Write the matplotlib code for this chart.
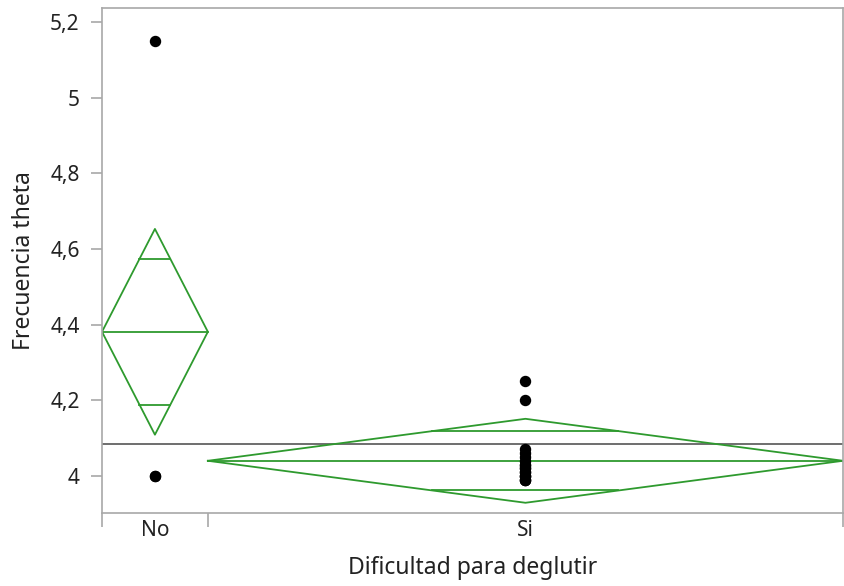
import numpy as np
import matplotlib.pyplot as plt

# Groups (x axis widths proportional to group size, as in JMP)
groups = ['No', 'Si']
group_n = [3, 18]

# Observations per group
values_no = [5.15, 4.0, 4.0]
values_si = [4.25, 4.20, 4.07, 4.06, 4.05, 4.04, 4.03, 4.03, 4.02, 4.02,
             4.01, 4.01, 4.0, 4.0, 4.0, 3.99, 3.99, 3.99]

# Means diamonds
group_means = [4.381, 4.040]
ci_half = [0.272, 0.111]
grand_mean = 4.085

yticks = [4.0, 4.2, 4.4, 4.6, 4.8, 5.0, 5.2]

plt.rcParams['font.family'] = ['Noto Sans', 'DejaVu Sans']
green = '#2e9a2e'
grey = '#a8a8a8'

fig = plt.figure(figsize=(8.45, 5.86), dpi=100)
ax = fig.add_axes([0.1207, 0.1246, 0.877, 0.8617])

edges = np.concatenate([[0], np.cumsum(group_n)])
centers = (edges[:-1] + edges[1:]) / 2

# grand mean line
ax.axhline(grand_mean, color='#555555', lw=1.2, zorder=1)

for i, vals in enumerate([values_no, values_si]):
    left, right, c = edges[i], edges[i + 1], centers[i]
    m, h = group_means[i], ci_half[i]
    # diamond
    ax.plot([left, c, right, c, left], [m, m + h, m, m - h, m],
            color=green, lw=1.3, zorder=2)
    ax.plot([left, right], [m, m], color=green, lw=1.3, zorder=2)
    # overlap marks
    d = h / np.sqrt(2)
    half_w = (right - left) / 2 * (1 - d / h)
    for yy in (m + d, m - d):
        ax.plot([c - half_w, c + half_w], [yy, yy], color=green, lw=1.3, zorder=2)
    ax.scatter([c] * len(vals), vals, s=52, color='black', zorder=3)

ax.set_xlim(0, edges[-1])
ax.set_ylim(3.902, 5.237)
ax.set_yticks(yticks)
ax.set_yticklabels([f'{t:g}'.replace('.', ',') for t in yticks])

ax.set_xticks(edges)
ax.set_xticklabels([])
ax.set_xticks(centers, minor=True)
ax.set_xticklabels(groups, minor=True)
ax.tick_params(axis='x', which='major', length=10, width=1.2, color=grey)
ax.tick_params(axis='x', which='minor', length=0, pad=5)
ax.tick_params(axis='y', length=8, width=1.2, color=grey, pad=8)
ax.tick_params(which='both', labelsize=15, labelcolor='#222222')

for sp in ax.spines.values():
    sp.set_color(grey)
    sp.set_linewidth(1.2)

ax.set_xlabel('Dificultad para deglutir', fontsize=16.5, color='#222222', labelpad=11)
ax.set_ylabel('Frecuencia theta', fontsize=16.5, color='#222222', labelpad=10)

fig.savefig('out.png', dpi=100)
